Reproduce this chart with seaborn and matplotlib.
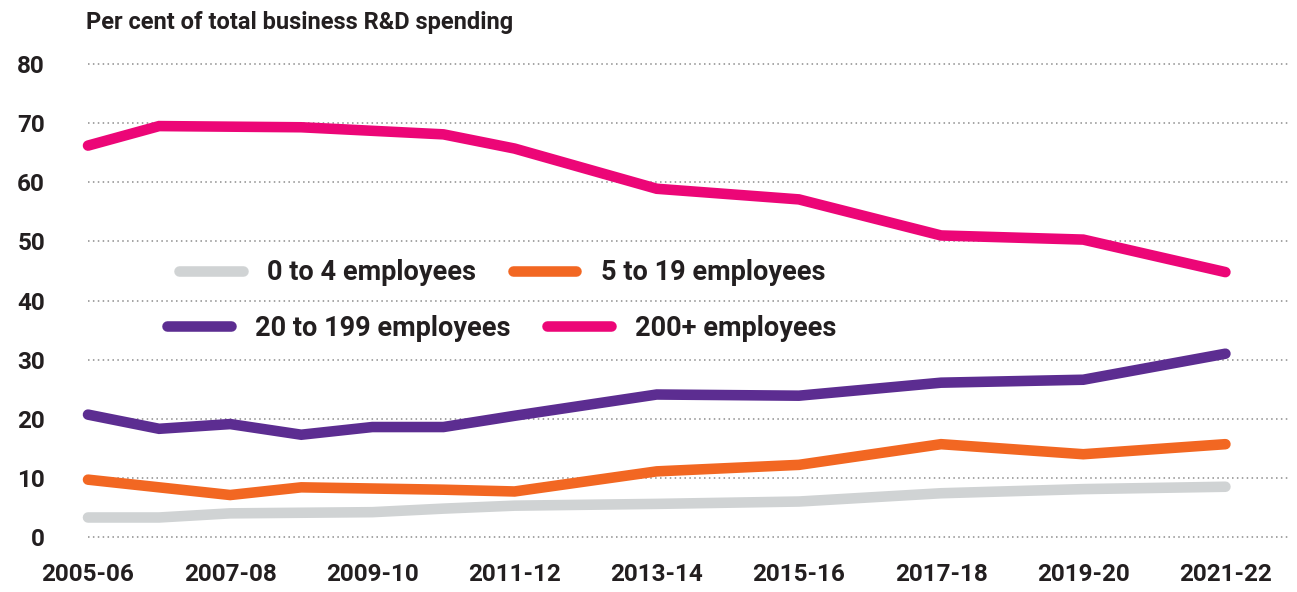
import matplotlib
matplotlib.use("Agg")
import matplotlib.pyplot as plt
from matplotlib.lines import Line2D
import seaborn as sns
import pandas as pd

# Survey years (start year of each financial year); annual to 2011-12, biennial after
years = [2005, 2006, 2007, 2008, 2009, 2010, 2011, 2013, 2015, 2017, 2019, 2021]

emp_0_4 = [3.3, 3.3, 4.0, 4.1, 4.2, 4.8, 5.3, 5.6, 6.0, 7.4, 8.1, 8.5]
emp_5_19 = [9.7, 8.4, 7.1, 8.4, 8.2, 8.0, 7.7, 11.1, 12.2, 15.7, 14.0, 15.7]
emp_20_199 = [20.7, 18.3, 19.1, 17.3, 18.6, 18.6, 20.5, 24.1, 23.9, 26.1, 26.6, 31.0]
emp_200_plus = [66.2, 69.5, 69.4, 69.3, 68.7, 68.1, 65.7, 58.9, 57.1, 51.0, 50.3, 44.8]

series_names = ["0 to 4 employees", "5 to 19 employees",
                "20 to 199 employees", "200+ employees"]
series_values = [emp_0_4, emp_5_19, emp_20_199, emp_200_plus]
colors = ["#D0D3D4", "#F26722", "#5C2D91", "#EC0677"]

tick_years = [2005, 2007, 2009, 2011, 2013, 2015, 2017, 2019, 2021]
tick_labels = ["2005-06", "2007-08", "2009-10", "2011-12", "2013-14",
               "2015-16", "2017-18", "2019-20", "2021-22"]
y_ticks = [0, 10, 20, 30, 40, 50, 60, 70, 80]

df = pd.DataFrame(
    [(y, v, name) for name, vals in zip(series_names, series_values)
     for y, v in zip(years, vals)],
    columns=["year", "share", "size"],
)

sns.set_theme(style="white")
plt.rcParams["font.family"] = ["Roboto", "DejaVu Sans"]
TEXT = "#231F20"

W, H = 1297, 592
fig = plt.figure(figsize=(W / 100, H / 100), dpi=100)
ax = fig.add_axes([88 / W, (H - 537) / H, (1290 - 88) / W, (537 - 64) / H])

LW = 7.6
sns.lineplot(data=df, x="year", y="share", hue="size", hue_order=series_names,
             palette=colors, linewidth=LW, legend=False, ax=ax,
             solid_capstyle="round", solid_joinstyle="miter")
for ln in ax.get_lines():
    ln.set_clip_on(False)

px_per_year = (1225 - 80) / (2021 - 2005)
ax.set_xlim(2005 + (88 - 80) / px_per_year, 2005 + (1290 - 80) / px_per_year)
ax.set_ylim(0, 80)

ax.set_xticks(tick_years)
ax.set_xticklabels(tick_labels)
ax.set_yticks(y_ticks)
ax.set_yticklabels([str(t) for t in y_ticks])
ax.tick_params(axis="both", length=0, labelsize=17.5, labelcolor=TEXT)
ax.tick_params(axis="y", pad=31)
ax.tick_params(axis="x", pad=19)
for lab in ax.get_xticklabels() + ax.get_yticklabels():
    lab.set_fontweight("bold")

ax.grid(False)
for t in y_ticks:
    ax.axhline(t, color="#8C8C8C", linestyle=(0, (1, 2.2)), linewidth=1.1,
               zorder=0, clip_on=False)
for s in ax.spines.values():
    s.set_visible(False)
ax.set_xlabel("")
ax.set_ylabel("")

fig.text(86 / W, 1 - 23 / H, "Per cent of total business R&D spending",
         fontsize=17, fontweight="bold", color=TEXT, ha="left", va="center")

# Two centred legend rows
def legend_row(idx, y_px):
    handles = [Line2D([], [], color=colors[i], linewidth=LW,
                      solid_capstyle="round") for i in idx]
    leg = fig.legend(handles, [series_names[i] for i in idx], ncol=2,
                     loc="center", bbox_to_anchor=(502 / W, 1 - y_px / H),
                     frameon=False, handlelength=2.35, handletextpad=0.9,
                     columnspacing=1.35, borderpad=0, borderaxespad=0,
                     prop={"size": 19.5, "weight": "bold"})
    for t in leg.get_texts():
        t.set_color(TEXT)
    return leg

legend_row([0, 1], 273)
legend_row([2, 3], 328)

fig.savefig("out.png", dpi=100)
